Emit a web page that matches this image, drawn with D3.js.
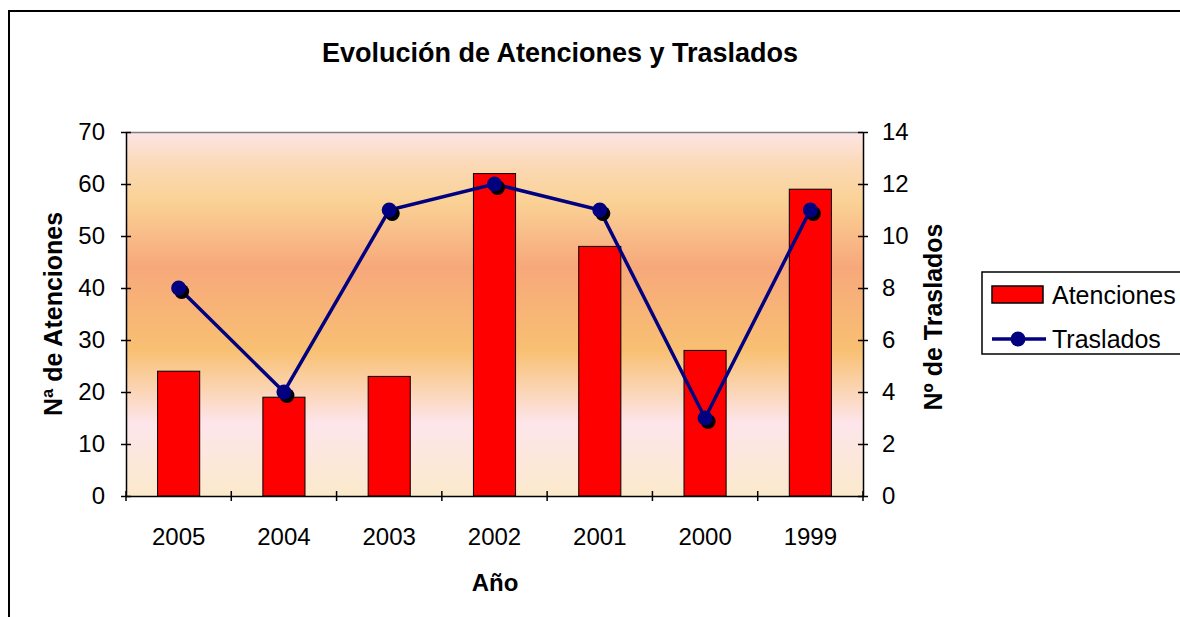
<!DOCTYPE html>
<html><head><meta charset="utf-8">
<script src="https://cdn.jsdelivr.net/npm/d3@7/dist/d3.min.js"></script>
<style>
body{margin:0;background:#fff;}
svg{display:block;font-family:"Liberation Sans",Arial,sans-serif;}
</style></head>
<body>
<svg id="c" width="1180" height="617"></svg>
<script>
const categories = ["2005","2004","2003","2002","2001","2000","1999"];
const atenciones = [24, 19, 23, 62, 48, 28, 59];
const traslados = [8, 4, 11, 12, 11, 3, 11];
const leftTicks = [0,10,20,30,40,50,60,70];
const rightTicks = [0,2,4,6,8,10,12,14];
const title = "Evolución de Atenciones y Traslados";
const xTitle = "Año";
const yLeftTitle = "Nª de Atenciones";
const yRightTitle = "Nº de Traslados";
const seriesNames = ["Atenciones","Traslados"];

const svg = d3.select("#c");
const L = 126, R = 863, T = 132, B = 496;
const FONT = "'Liberation Sans',Arial,sans-serif";

// outer border
svg.append("path").attr("d","M9,620 L9,11 L1185,11").attr("fill","none").attr("stroke","#000").attr("stroke-width",2);

// gradient
const defs = svg.append("defs");
const g = defs.append("linearGradient").attr("id","bg").attr("x1",0).attr("y1",0).attr("x2",0).attr("y2",1);
[[0,"#fde5e6"],[0.09,"#fbd9b6"],[0.19,"#fad296"],[0.37,"#f7a87b"],[0.6,"#f8c072"],[0.8,"#fde5eb"],[1,"#fbe9cb"]]
 .forEach(([o,c])=>g.append("stop").attr("offset",o).attr("stop-color",c));

const x = d3.scaleBand().domain(categories).range([L,R]).paddingInner(0).paddingOuter(0);
const yL = d3.scaleLinear().domain([0,70]).range([B,T]);
const yR = d3.scaleLinear().domain([0,14]).range([B,T]);

svg.append("rect").attr("x",L).attr("y",T).attr("width",R-L).attr("height",B-T).attr("fill","url(#bg)");
svg.append("line").attr("x1",L).attr("x2",R).attr("y1",T+0.5).attr("y2",T+0.5).attr("stroke","#808080").attr("stroke-width",1.5);

// bars
const bw = x.bandwidth()/2.5;
svg.append("g").selectAll("rect").data(categories).join("rect")
  .attr("x",d=>x(d)+x.bandwidth()/2-bw/2)
  .attr("y",(d,i)=>yL(atenciones[i]))
  .attr("width",bw)
  .attr("height",(d,i)=>B-yL(atenciones[i]))
  .attr("fill","#ff0000").attr("stroke","#000").attr("stroke-width",1);

// axes
function styleAxis(sel){
  sel.attr("font-size",24).attr("font-family",FONT);
  sel.selectAll("path").attr("stroke","#000").attr("stroke-width",1.5);
  sel.selectAll(".tick line").attr("stroke","#000").attr("stroke-width",1.5);
  sel.selectAll("text").attr("fill","#000");
}
const axL = svg.append("g").attr("transform",`translate(${L},0)`)
  .call(d3.axisLeft(yL).tickValues(leftTicks).tickSizeInner(5).tickSizeOuter(0).tickPadding(16));
axL.selectAll(".tick line").attr("x2",5).attr("x1",-5);
styleAxis(axL);
const axR = svg.append("g").attr("transform",`translate(${R},0)`)
  .call(d3.axisRight(yR).tickValues(rightTicks).tickSizeInner(5).tickSizeOuter(0).tickPadding(14));
axR.selectAll(".tick line").attr("x1",-5).attr("x2",5);
styleAxis(axR);
const axX = svg.append("g").attr("transform",`translate(0,${B})`)
  .call(d3.axisBottom(x).tickSize(0).tickPadding(32));
styleAxis(axX);
// category boundary ticks
const bounds = categories.map(c=>x(c)).concat([R]);
svg.append("g").selectAll("line").data(bounds).join("line")
  .attr("x1",d=>d).attr("x2",d=>d).attr("y1",B-5).attr("y2",B+5)
  .attr("stroke","#000").attr("stroke-width",1.5);

// line series
const cx = (d,i)=>x(categories[i])+x.bandwidth()/2;
const line = d3.line().x((d,i)=>cx(d,i)).y(d=>yR(d));
svg.append("path").datum(traslados).attr("d",line).attr("fill","none").attr("stroke","#000080").attr("stroke-width",3.5);
svg.append("g").selectAll("circle").data(traslados).join("circle")
  .attr("cx",(d,i)=>cx(d,i)+3).attr("cy",d=>yR(d)+3.5).attr("r",7.5).attr("fill","#000");
svg.append("g").selectAll("circle").data(traslados).join("circle")
  .attr("cx",(d,i)=>cx(d,i)).attr("cy",d=>yR(d)).attr("r",7.5).attr("fill","#000080");

// titles
svg.append("text").attr("x",560).attr("y",62).attr("text-anchor","middle").attr("font-size",27).attr("font-weight","bold").text(title);
svg.append("text").attr("x",495).attr("y",591).attr("text-anchor","middle").attr("font-size",24).attr("font-weight","bold").text(xTitle);
svg.append("text").attr("transform","translate(62,314) rotate(-90)").attr("text-anchor","middle").attr("font-size",25).attr("font-weight","bold").text(yLeftTitle);
svg.append("text").attr("transform","translate(942,317) rotate(-90)").attr("text-anchor","middle").attr("font-size",25).attr("font-weight","bold").text(yRightTitle);

// legend
const lg = svg.append("g").attr("font-size",25);
lg.append("rect").attr("x",982).attr("y",272).attr("width",200).attr("height",82).attr("fill","#fff").attr("stroke","#000").attr("stroke-width",1.5);
lg.append("rect").attr("x",992).attr("y",286).attr("width",51).attr("height",17).attr("fill","#ff0000").attr("stroke","#000").attr("stroke-width",1.5);
lg.append("text").attr("x",1052).attr("y",304).text(seriesNames[0]);
lg.append("line").attr("x1",992).attr("x2",1046).attr("y1",339).attr("y2",339).attr("stroke","#000080").attr("stroke-width",3.5);
lg.append("circle").attr("cx",1018).attr("cy",339).attr("r",7.5).attr("fill","#000080");
lg.append("text").attr("x",1052).attr("y",348).text(seriesNames[1]);
</script>
</body></html>
